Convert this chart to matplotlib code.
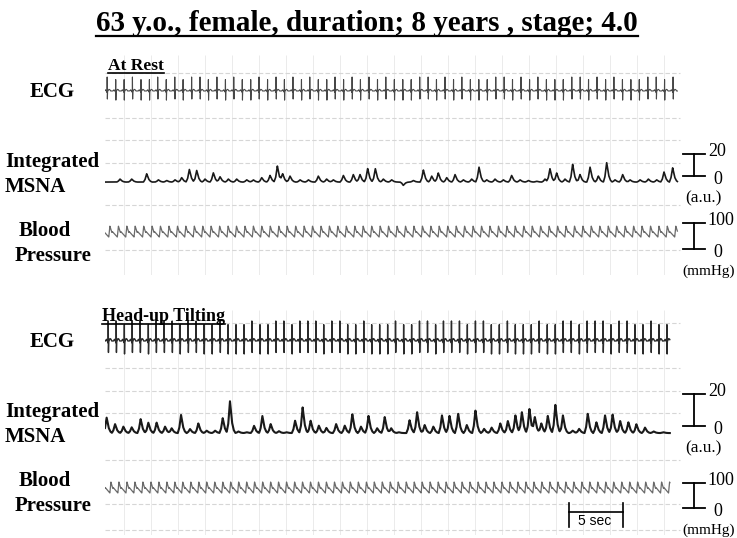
import numpy as np
import matplotlib.pyplot as plt
from matplotlib.lines import Line2D

plt.rcParams['font.family'] = ['Liberation Serif', 'DejaVu Serif']

# ---- recorded data --------------------------------------------------------
TITLE = "63 y.o., female, duration; 8 years , stage; 4.0"

# R-peak times (s)
rest_beats = [0.20, 0.99, 1.77, 2.54, 3.33, 4.11, 4.88, 5.67, 6.46, 7.23, 8.02, 8.80,
              9.57, 10.36, 11.15, 11.92, 12.71, 13.49, 14.26, 15.05, 15.84, 16.61, 17.40,
              18.19, 18.96, 19.75, 20.53, 21.30, 22.09, 22.88, 23.65, 24.44, 25.23, 26.00,
              26.79, 27.57, 28.35, 29.14, 29.92, 30.69, 31.48, 32.27, 33.04, 33.83, 34.61,
              35.39, 36.18, 36.96, 37.73, 38.52, 39.31, 40.08, 40.87, 41.65, 42.43, 43.22,
              44.00, 44.77, 45.56, 46.35, 47.12, 47.91, 48.69, 49.47, 50.26, 51.04, 51.81,
              52.60]
tilt_beats = [0.30, 1.04, 1.79, 2.52, 3.26, 4.01, 4.74, 5.48, 6.22, 6.95, 7.70, 8.44,
              9.17, 9.91, 10.66, 11.39, 12.13, 12.87, 13.60, 14.35, 15.09, 15.82, 16.56,
              17.31, 18.04, 18.78, 19.52, 20.25, 21.00, 21.74, 22.47, 23.21, 23.96, 24.69,
              25.43, 26.17, 26.90, 27.65, 28.39, 29.12, 29.86, 30.61, 31.34, 32.08, 32.82,
              33.55, 34.30, 35.04, 35.77, 36.51, 37.26, 37.99, 38.73, 39.47, 40.20, 40.95,
              41.69, 42.42, 43.16, 43.91, 44.64, 45.38, 46.12, 46.85, 47.60, 48.34, 49.07,
              49.81, 50.56, 51.29, 52.03]

# integrated MSNA bursts: peak time (s), height (a.u.)
rest_burst_t = [1.39, 2.47, 3.86, 4.94, 5.71, 6.48, 7.10, 7.81, 8.49, 9.26, 10.03, 10.65,
                11.42, 12.19, 13.12, 13.73, 14.51, 15.28, 15.96, 16.45, 17.13, 18.06, 18.83,
                19.75, 20.52, 21.14, 22.07, 22.99, 23.61, 24.32, 25.03, 25.77, 26.54, 27.62,
                28.55, 29.48, 30.25, 30.86, 31.64, 32.41, 33.18, 33.95, 34.63, 35.34, 36.11,
                36.88, 37.65, 38.43, 39.20, 39.97, 40.74, 41.20, 41.82, 42.59, 43.30, 43.98,
                44.91, 45.68, 46.45, 47.22, 47.93, 48.61, 49.54, 50.31, 51.08, 51.76, 52.56]
rest_burst_a = [2.7, 2.7, 7.5, 2.0, 1.4, 2.0, 4.0, 11.5, 10.6, 2.7, 8.4, 4.8,
                2.7, 2.7, 2.0, 2.0, 4.0, 6.0, 14.5, 7.5, 5.4, 2.0, 2.0,
                5.4, 2.7, 2.0, 6.0, 6.8, 6.8, 12.2, 12.2, 2.7, 2.0, -3.0,
                1.4, 10.9, 5.4, 8.2, 4.0, 6.8, 2.0, 2.7, 13.6, 2.0, 2.7,
                2.0, 6.0, 2.0, 1.4, 0.7, 2.7, 12.0, 8.2, 2.7, 16.0, 6.8,
                13.6, 5.4, 17.7, 2.0, 6.8, 2.0, 2.0, 2.7, 2.0, 9.1, 12.9]
tilt_burst_t = [0.15, 0.93, 1.70, 2.47, 3.30, 4.01, 4.78, 5.56, 6.17, 7.04, 7.87, 8.64,
                9.41, 10.19, 10.90, 11.57, 12.35, 13.12, 13.80, 14.57, 15.34, 16.10, 16.80,
                17.60, 18.30, 19.04, 19.80, 20.50, 21.40, 22.20, 22.90, 23.70, 24.40, 25.20,
                25.90, 26.50, 27.20, 28.20, 28.90, 29.60, 30.40, 31.20, 31.90, 32.70, 33.50,
                34.30, 35.10, 35.80, 36.60, 37.30, 38.00, 38.60, 39.30, 39.80, 40.40, 41.00,
                41.70, 42.40, 43.30, 43.90, 44.70, 45.50, 46.30, 47.00, 47.70, 48.46, 49.20,
                50.00, 50.80, 51.70]
tilt_burst_a = [9.7, 5.6, 4.0, 3.6, 8.7, 6.5, 6.5, 4.0, 3.0, 11.3, 2.5, 6.0,
                1.5, 1.5, 9.3, 20.0, 1.0, 0.5, 4.5, 10.7, 5.6, 1.2, 0.5,
                7.7, 16.0, 7.7, 4.6, 3.2, 5.6, 4.6, 11.7, 4.0, 10.7, 3.0,
                10.0, 3.0, 0.5, 8.0, 13.0, 5.0, 4.0, 11.0, 10.7, 12.0, 5.0,
                14.0, 2.6, 3.4, 6.0, 7.5, 11.0, 13.0, 15.0, 10.0, 6.0, 10.7,
                17.6, 11.0, 1.5, 2.6, 12.0, 6.7, 11.0, 11.5, 7.5, 6.7, 5.5,
                3.4, 1.0, 0.5]
rest_msna_base, tilt_msna_base = -5.5, -4.4

# blood pressure (mmHg), systolic / diastolic
rest_sys, rest_dia = 88, 46
tilt_sys, tilt_dia = 104, 60

rest_end, tilt_end = 53.0, 52.3

# waveform shapes of one beat / one burst
ECG_T = [-0.25, -0.18, -0.14, -0.10, -0.03, -0.012, 0.0, 0.018, 0.035, 0.06, 0.16, 0.24, 0.32]
ECG_V = [0.0, 0.08, 0.08, 0.0, 0.0, -0.10, 1.0, -0.65, 0.0, 0.0, 0.12, 0.10, 0.0]
BURST_T = [-0.30, -0.16, -0.05, 0.0, 0.08, 0.20, 0.34, 0.50]
BURST_V = [0.0, 0.28, 0.78, 1.0, 0.72, 0.32, 0.10, 0.0]
BP_PHASE = [0.0, 0.13, 0.22, 0.36, 0.42, 1.0]
BP_SHAPE = [0.0, 1.0, 0.78, 0.42, 0.50, 0.0]

# ---- layout ----------------------------------------------------------------
W, H = 737, 538
PX_PER_S = 10.8
X0, X1 = 105, 737
T_MAX = (X1 - X0) / PX_PER_S
BAR_X = (694 - X0) / PX_PER_S
BAR_HW = 11 / PX_PER_S

fig = plt.figure(figsize=(W / 100, H / 100), dpi=100)
fig.patch.set_facecolor('white')


def fx(px):
    return px / W


def fy(py):
    return 1 - py / H


def trace_axes(y_top, y_bot, zero_px, px_per_unit):
    ax = fig.add_axes([fx(X0), fy(y_bot), (X1 - X0) / W, (y_bot - y_top) / H])
    ax.set_xlim(0, T_MAX)
    ax.set_ylim((zero_px - y_bot) / px_per_unit, (zero_px - y_top) / px_per_unit)
    ax.patch.set_alpha(0)
    ax.axis('off')
    return ax


def grid_axes(y_top, y_bot, rows):
    ax = fig.add_axes([fx(X0), fy(y_bot), (X1 - X0) / W, (y_bot - y_top) / H])
    ax.set_xlim(0, T_MAX)
    ax.set_ylim(y_bot, y_top)
    ax.vlines(np.arange(1.75, 53.5, 2.5), y_top, y_bot, color='#ebebeb', lw=0.7)
    ax.hlines(rows, 0, 53.2, color='#d6d6d6', lw=0.8, linestyles=(0, (4, 2)))
    ax.axis('off')


def ecg_signal(t, beats):
    sig = np.zeros_like(t)
    for b in beats:
        sig += np.interp(t - b, ECG_T, ECG_V, left=0, right=0)
    return sig


def msna_signal(t, times, amps, base):
    sig = np.full_like(t, base)
    for c, a in zip(times, amps):
        sig += a * np.interp(t - c, BURST_T, BURST_V, left=0, right=0)
    return sig


def bp_signal(t, beats, sys, dia, delay=0.15):
    on = np.asarray(beats) + delay
    on = np.concatenate([[on[0] - (on[1] - on[0])], on, [on[-1] + (on[-1] - on[-2])]])
    idx = np.clip(np.searchsorted(on, t, side='right') - 1, 0, len(on) - 2)
    phase = (t - on[idx]) / (on[idx + 1] - on[idx])
    return dia + (sys - dia) * np.interp(phase, BP_PHASE, BP_SHAPE)


def scale_bar(ax, top, top_label, unit, unit_dx, unit_size):
    kw = dict(color='black', lw=1.3, clip_on=False)
    ax.plot([BAR_X, BAR_X], [0, top], **kw)
    ax.plot([BAR_X - BAR_HW, BAR_X + BAR_HW], [0, 0], **kw)
    ax.plot([BAR_X - BAR_HW, BAR_X + BAR_HW], [top, top], **kw)
    ax.annotate(top_label, (BAR_X, top), xytext=(10, 1.5), textcoords='offset points',
                ha='left', va='center', fontsize=13)
    ax.annotate('0', (BAR_X, 0), xytext=(17, -2.5), textcoords='offset points',
                ha='center', va='center', fontsize=13)
    ax.annotate(unit, (BAR_X, 0), xytext=(unit_dx, -16), textcoords='offset points',
                ha='center', va='center', fontsize=unit_size)


def side_label(text, x, y):
    fig.text(fx(x), fy(y), text, ha='left', va='center', fontsize=15, weight='bold')


def underlined(text, x, y_base, size, ha='left', gap=5, lw=1.4):
    txt = fig.text(fx(x), fy(y_base), text, ha=ha, va='baseline', fontsize=size,
                   weight='bold')
    bb = txt.get_window_extent(renderer=fig.canvas.get_renderer())
    fig.add_artist(Line2D([bb.x0 / W, bb.x1 / W], [fy(y_base + gap)] * 2,
                          transform=fig.transFigure, color='black', lw=lw))


def panel(beats, burst_t, burst_a, base, sys, dia, t_end, lay):
    t = np.arange(0, t_end, 0.004)
    grid_axes(*lay['grid'])

    ax = trace_axes(*lay['ecg'])
    ax.plot(t, ecg_signal(t, beats), color=lay['ecg_c'], lw=lay['ecg_lw'])

    ax = trace_axes(*lay['msna'])
    ax.plot(t, msna_signal(t, burst_t, burst_a, base), color='#1a1a1a', lw=lay['msna_lw'])
    scale_bar(ax, 20, '20', '(a.u.)', 7, 12.5)

    ax = trace_axes(*lay['bp'])
    ax.plot(t, bp_signal(t, beats, sys, dia), color='#6a6a6a', lw=0.9)
    scale_bar(ax, 100, '100', '(mmHg)', 10.5, 11)
    return ax


top = dict(grid=(55, 275, [73, 118, 140, 163, 205, 250]),
           ecg=(65, 115, 91, 14), msna=(135, 205, 176, 1.1), bp=(212, 262, 249, 0.26),
           ecg_c='#474747', ecg_lw=0.8, msna_lw=1.2)
bottom = dict(grid=(310, 535, [323, 368, 391, 413, 460, 504, 530]),
              ecg=(315, 365, 341, 20), msna=(380, 450, 426, 1.6), bp=(470, 520, 508, 0.25),
              ecg_c='#2a2a2a', ecg_lw=1.0, msna_lw=1.5)

panel(rest_beats, rest_burst_t, rest_burst_a, rest_msna_base, rest_sys, rest_dia,
      rest_end, top)
ax_bp = panel(tilt_beats, tilt_burst_t, tilt_burst_a, tilt_msna_base, tilt_sys, tilt_dia,
              tilt_end, bottom)

# 5 sec time bar under the tilting blood pressure trace
t0 = (569 - X0) / PX_PER_S
kw = dict(color='black', lw=1.2, clip_on=False)
ax_bp.plot([t0, t0 + 5], [-16, -16], **kw)
ax_bp.plot([t0, t0], [20, -76], **kw)
ax_bp.plot([t0 + 5, t0 + 5], [20, -76], **kw)
ax_bp.text(t0 + 2.4, -52, '5 sec', ha='center', va='center', fontsize=10,
           family=['Liberation Sans', 'DejaVu Sans'])

# row labels
for y0 in (0, 250):
    side_label('ECG', 30, 92 + y0)
    side_label('Integrated', 5, 162 + y0)
    side_label('MSNA', 5, 187 + y0)
    side_label('Blood', 19, 231 + y0)
    side_label('Pressure', 15, 256 + y0)

underlined(TITLE, 367, 31, 21, ha='center', gap=5, lw=1.6)
underlined('At Rest', 108, 70, 12.5, gap=3, lw=1.2)
underlined('Head-up Tilting', 102, 321, 13, gap=3, lw=1.2)

fig.savefig('out.png', dpi=100, facecolor='white')
